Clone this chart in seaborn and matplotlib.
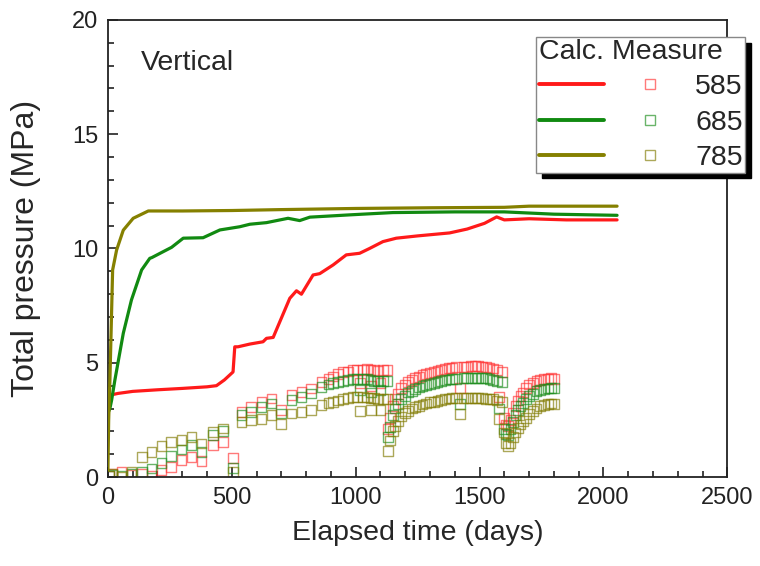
import pandas as pd
import seaborn as sns
import matplotlib.pyplot as plt
from matplotlib.lines import Line2D
from matplotlib.ticker import MultipleLocator

# calculated total pressure (days, MPa)
calc_days_585 = [0, 5, 15, 40, 100, 200, 300, 400, 438, 470, 505, 512, 525, 573, 626, 640, 667, 694,
                 734, 761, 781, 828, 855, 909, 962, 1016, 1056, 1110, 1164, 1250, 1379, 1450, 1520,
                 1569, 1600, 1700, 1850, 2055]
calc_vals_585 = [3.2, 3.5, 3.6, 3.66, 3.75, 3.82, 3.88, 3.95, 4.0, 4.25, 4.6, 5.7, 5.7, 5.82, 5.92, 6.07,
                 6.11, 6.8, 7.82, 8.15, 8.0, 8.84, 8.9, 9.28, 9.72, 9.79, 10.0, 10.3, 10.45, 10.55,
                 10.68, 10.85, 11.1, 11.38, 11.25, 11.3, 11.25, 11.25]
calc_days_685 = [0, 8, 15, 28, 62, 95, 136, 169, 177, 216, 257, 304, 384, 452, 532, 573, 640, 727, 774,
                 815, 976, 1150, 1400, 1600, 1800, 2055]
calc_vals_685 = [2.8, 3.0, 3.37, 4.24, 6.29, 7.75, 9.06, 9.57, 9.6, 9.82, 10.05, 10.45, 10.47, 10.81,
                 10.95, 11.06, 11.13, 11.32, 11.22, 11.37, 11.47, 11.57, 11.6, 11.6, 11.5, 11.45]
calc_days_785 = [0, 3, 8, 19, 35, 62, 102, 163, 300, 500, 700, 1000, 1300, 1600, 1700, 2055]
calc_vals_785 = [0.3, 2.5, 4.24, 9.06, 9.93, 10.8, 11.32, 11.64, 11.64, 11.66, 11.7, 11.75, 11.78,
                 11.8, 11.85, 11.85]

# measured total pressure, same days for all three sensors
meas_days = [5, 17, 55, 95, 136, 176, 216, 255, 297, 337, 378, 425, 465, 505,
             539, 579, 620, 660, 700, 741, 781, 821, 862, 890, 910, 930, 950, 970, 990, 1005,
             1016, 1030, 1045, 1060, 1063, 1075, 1090, 1100, 1110, 1125,
             1132, 1140, 1150, 1160, 1172, 1184, 1198, 1212, 1226, 1240, 1255, 1270, 1285,
             1300, 1315, 1330, 1345, 1360, 1375, 1390, 1405, 1420, 1435, 1450, 1465, 1480,
             1495, 1510, 1525, 1540, 1555, 1570, 1580, 1590, 1598,
             1605, 1615, 1625, 1635, 1645, 1655, 1665, 1675, 1688, 1700, 1715, 1730, 1745,
             1760, 1775, 1790, 1802]
meas_585 = [0.05, 0.16, 0.23, 0.1, 0.16, 0.05, 0.3, 0.45, 0.74, 0.89, 0.7, 1.4, 1.55, 0.82,
            2.86, 3.05, 3.29, 3.44, 2.93, 3.59, 3.73, 3.88, 4.17, 4.3, 4.4, 4.5, 4.58, 4.62, 4.68, 4.68,
            4.1, 4.7, 4.72, 4.7, 4.0, 4.68, 4.65, 4.1, 4.68, 4.7,
            2.1, 2.6, 3.1, 3.4, 3.65, 3.9, 4.05, 4.15, 4.25, 4.32, 4.38, 4.45, 4.5,
            4.54, 4.6, 4.65, 4.7, 4.74, 4.76, 4.78, 4.8, 3.9, 4.82, 4.83, 4.85, 4.85,
            4.85, 4.83, 4.8, 4.78, 4.75, 4.7, 3.5, 4.6, 2.6,
            2.3, 2.25, 2.5, 2.8, 3.1, 3.35, 3.55, 3.7, 3.9, 4.05, 4.12, 4.2, 4.25,
            4.28, 4.3, 4.32, 4.3]
meas_685 = [0.05, 0.1, 0.05, 0.15, 0.23, 0.38, 0.63, 0.93, 1.21, 1.4, 1.11, 1.84, 2.0, 0.4,
            2.71, 2.86, 3.08, 3.22, 2.78, 3.37, 3.51, 3.66, 3.95, 4.05, 4.1, 4.15, 4.2, 4.25, 4.3, 4.3,
            3.8, 4.3, 4.3, 4.25, 3.7, 4.2, 4.2, 3.8, 4.2, 4.2,
            1.75, 2.2, 2.7, 3.0, 3.2, 3.4, 3.55, 3.7, 3.78, 3.85, 3.92, 3.98, 4.03,
            4.08, 4.12, 4.16, 4.2, 4.24, 4.27, 4.3, 4.3, 3.2, 4.32, 4.33, 4.35, 4.35,
            4.35, 4.33, 4.32, 4.3, 4.25, 4.2, 3.0, 4.17, 2.1,
            1.9, 1.85, 2.1, 2.4, 2.7, 2.95, 3.1, 3.25, 3.4, 3.55, 3.65, 3.75, 3.8,
            3.85, 3.88, 3.9, 3.9]
meas_785 = [0.05, 0.12, 0.02, 0.23, 0.89, 1.11, 1.36, 1.55, 1.62, 1.76, 1.47, 1.98, 2.13, 0.23,
            2.42, 2.49, 2.56, 2.71, 2.34, 2.78, 2.86, 2.93, 3.15, 3.25, 3.3, 3.35, 3.42, 3.45, 3.5, 3.5,
            2.9, 3.5, 3.48, 3.45, 2.93, 3.45, 3.42, 2.95, 3.4, 3.4,
            1.15, 1.6, 2.0, 2.25, 2.45, 2.65, 2.8, 2.9, 3.0, 3.05, 3.12, 3.18, 3.22,
            3.27, 3.3, 3.34, 3.38, 3.42, 3.44, 3.45, 3.45, 2.75, 3.46, 3.47, 3.47, 3.47,
            3.45, 3.45, 3.43, 3.42, 3.4, 3.35, 2.55, 3.3, 1.95,
            1.5, 1.35, 1.5, 1.75, 1.95, 2.15, 2.3, 2.45, 2.6, 2.75, 2.9, 3.0, 3.1,
            3.15, 3.2, 3.22, 3.2]

labels = ["585", "685", "785"]
colors = ["#ff1a1a", "#118a11", "#858000"]
mark_colors = [(1.0, 0.2, 0.2, 0.65), (0.1, 0.55, 0.1, 0.65), (0.5, 0.48, 0.0, 0.65)]

sns.set_style("ticks")
plt.rcParams["font.family"] = ["Liberation Sans", "DejaVu Sans"]

fig = plt.figure(figsize=(7.6, 5.66), dpi=100)
ax = fig.add_axes([0.142, 0.157, 0.815, 0.808])

calc = [(calc_days_585, calc_vals_585), (calc_days_685, calc_vals_685), (calc_days_785, calc_vals_785)]
meas = [meas_585, meas_685, meas_785]

for m, mc in zip(meas, mark_colors):
    sns.scatterplot(x=meas_days, y=m, ax=ax, marker="s", s=50, facecolor="none",
                    edgecolor=mc, linewidth=1.0, zorder=2)
for (d, v), c in zip(calc, colors):
    sns.lineplot(x=d, y=v, ax=ax, color=c, lw=2.3, estimator=None, sort=False, zorder=3)

ax.set_xlim(0, 2500)
ax.set_ylim(0, 20)
ax.xaxis.set_major_locator(MultipleLocator(500))
ax.xaxis.set_minor_locator(MultipleLocator(100))
ax.yaxis.set_major_locator(MultipleLocator(5))
ax.yaxis.set_minor_locator(MultipleLocator(1))
ax.tick_params(which="both", direction="in", labelsize=17, width=1.2, colors="#222222")
ax.tick_params(which="major", length=7, pad=7)
ax.tick_params(which="minor", length=4)
for sp in ax.spines.values():
    sp.set_linewidth(1.3)
    sp.set_color("#222222")

ax.set_xlabel("Elapsed time (days)", fontsize=20.5, labelpad=8)
ax.set_ylabel("Total pressure (MPa)", fontsize=23, labelpad=22)
ax.text(0.053, 0.905, "Vertical", transform=ax.transAxes, fontsize=20.5, va="center")

line_h = [Line2D([], [], color=c, lw=2.8) for c in colors]
mark_h = [Line2D([], [], ls="none", marker="s", ms=7, mfc="none", mec=mc, mew=1.0)
          for mc in mark_colors]
leg = ax.legend(handles=line_h + mark_h, labels=["", "", ""] + labels, ncol=2,
                title="Calc. Measure", alignment="left", fontsize=20.5, title_fontsize=20.5,
                loc="upper right", bbox_to_anchor=(745 / 760, 1 - 37 / 566),
                bbox_transform=fig.transFigure, borderaxespad=0, handlelength=2.3,
                handletextpad=0.45, columnspacing=0.0, labelspacing=0.32, borderpad=0.08,
                fancybox=False, frameon=True,
                shadow={"ox": 4, "oy": -4, "color": "black", "alpha": 1})
leg.get_frame().set_edgecolor("#888888")
leg.get_frame().set_linewidth(1.0)

fig.savefig("out.png", dpi=100)
